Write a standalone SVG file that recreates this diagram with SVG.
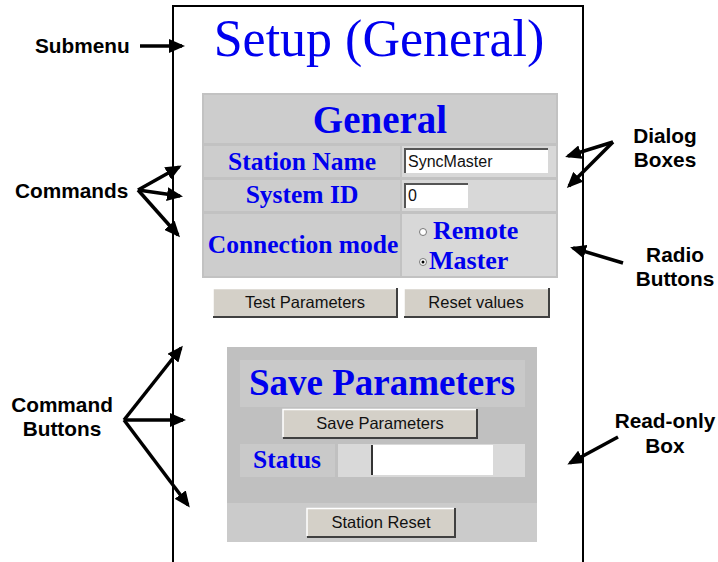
<svg xmlns="http://www.w3.org/2000/svg" width="718" height="562" viewBox="0 0 718 562">
<style>
.ann{font-family:"Liberation Sans",Arial,sans-serif;font-weight:bold;font-size:20.8px;fill:#000}
.blue{font-family:"Liberation Serif","Times New Roman",serif;fill:#0000ee}
.lbl{font-weight:bold;font-size:25.5px}
.btn{font-family:"Liberation Sans",Arial,sans-serif;font-size:16.5px;fill:#111}
.inp{font-family:"Liberation Sans",Arial,sans-serif;font-size:16px;fill:#111}
.cell{fill:#cdcdcd}
.vcell{fill:#d8d8d8}
.bface{fill:#d4d0c8}
.bdark{fill:none;stroke:#404040;stroke-width:2}
.blight{fill:none;stroke:#ffffff;stroke-width:1.5}
.arr{stroke:#000;stroke-width:3.5;fill:none;marker-end:url(#ah)}
</style>
<defs>
<marker id="ah" markerUnits="userSpaceOnUse" viewBox="0 0 16 14" refX="13" refY="7" markerWidth="16" markerHeight="14" orient="auto">
<path d="M0,0 L16,7 L0,14 Z" fill="#000"/>
</marker>
</defs>
<rect width="718" height="562" fill="#fff"/>

<g id="frame">
<path d="M173,562 V6 H583 V562" fill="none" stroke="#000" stroke-width="2"/>
</g>

<g id="title">
<text x="379" y="56" text-anchor="middle" class="blue" font-size="52">Setup (General)</text>
</g>

<g id="general-table">
<rect x="202" y="93" width="356" height="185" fill="#c2c2c2"/>
<rect x="204" y="95" width="352" height="48" class="cell"/>
<text x="380" y="133" text-anchor="middle" class="blue" font-weight="bold" font-size="39">General</text>
<rect x="204" y="146" width="196" height="31" class="cell"/>
<rect x="402" y="146" width="154" height="31" class="vcell"/>
<text x="302" y="170" text-anchor="middle" class="blue lbl">Station Name</text>
<rect x="204" y="180" width="196" height="31" class="cell"/>
<rect x="402" y="180" width="154" height="31" class="vcell"/>
<text x="302" y="203" text-anchor="middle" class="blue lbl">System ID</text>
<rect x="204" y="214" width="196" height="62" class="cell"/>
<rect x="402" y="214" width="154" height="62" class="vcell"/>
<text x="303" y="253" text-anchor="middle" class="blue lbl">Connection mode</text>
</g>

<g id="station-name-box">
<rect x="404" y="148" width="144" height="25" fill="#fff"/>
<path d="M405,173 V149 H548" fill="none" stroke="#555" stroke-width="2"/>
<text x="408" y="167" class="inp">SyncMaster</text>
</g>

<g id="system-id-box">
<rect x="404" y="183" width="64" height="25" fill="#fff"/>
<path d="M405,208 V184 H468" fill="none" stroke="#555" stroke-width="2"/>
<text x="408" y="201" class="inp">0</text>
</g>

<g id="radio-remote">
<circle cx="423" cy="232" r="3.5" fill="#fff" stroke="#777" stroke-width="1"/>
<text x="433" y="239" class="blue" font-weight="bold" font-size="26">Remote</text>
</g>
<g id="radio-master">
<circle cx="423" cy="262" r="3.5" fill="#fff" stroke="#777" stroke-width="1"/>
<circle cx="423" cy="262" r="1.5" fill="#000"/>
<text x="429" y="269" class="blue" font-weight="bold" font-size="26">Master</text>
</g>

<g id="btn-test">
<rect x="213" y="288" width="184" height="29" class="bface"/>
<path d="M213,317 H397 V288" class="bdark"/>
<path d="M213,316 V288.5 H396" class="blight"/>
<text x="305" y="308" text-anchor="middle" class="btn">Test Parameters</text>
</g>
<g id="btn-reset-values">
<rect x="404" y="288" width="145" height="29" class="bface"/>
<path d="M404,317 H549 V288" class="bdark"/>
<path d="M404,316 V288.5 H548" class="blight"/>
<text x="476" y="308" text-anchor="middle" class="btn">Reset values</text>
</g>

<g id="save-panel">
<rect x="227" y="347" width="310" height="195" fill="#c0c0c0"/>
<rect x="240" y="360" width="285" height="47" fill="#c9c9c9"/>
<text x="382" y="395" text-anchor="middle" class="blue" font-weight="bold" font-size="37">Save Parameters</text>
<rect x="240" y="444" width="95" height="33" fill="#c9c9c9"/>
<text x="287" y="468" text-anchor="middle" class="blue lbl">Status</text>
<rect x="338" y="444" width="187" height="33" fill="#d9d9d9"/>
<rect x="227" y="503" width="310" height="39" fill="#cbcbcb"/>
</g>

<g id="btn-save">
<rect x="283" y="409" width="194" height="29" class="bface"/>
<path d="M283,438 H477 V409" class="bdark"/>
<path d="M283,437 V409.5 H476" class="blight"/>
<text x="380" y="429" text-anchor="middle" class="btn">Save Parameters</text>
</g>

<g id="status-box">
<rect x="371" y="445" width="122" height="30" fill="#fff"/>
<path d="M372,475 V445" fill="none" stroke="#333" stroke-width="2"/>
</g>

<g id="btn-station-reset">
<rect x="307" y="508" width="148" height="29" class="bface"/>
<path d="M307,537 H455 V508" class="bdark"/>
<path d="M307,536 V508.5 H454" class="blight"/>
<text x="381" y="528" text-anchor="middle" class="btn">Station Reset</text>
</g>

<g id="label-submenu">
<text x="35" y="53" class="ann">Submenu</text>
</g>
<g id="label-commands">
<text x="15" y="198" class="ann">Commands</text>
</g>
<g id="label-command-buttons">
<text x="62" y="412" text-anchor="middle" class="ann">Command</text>
<text x="62" y="436" text-anchor="middle" class="ann">Buttons</text>
</g>
<g id="label-dialog-boxes">
<text x="665" y="143" text-anchor="middle" class="ann">Dialog</text>
<text x="665" y="167" text-anchor="middle" class="ann">Boxes</text>
</g>
<g id="label-radio-buttons">
<text x="675" y="262" text-anchor="middle" class="ann">Radio</text>
<text x="675" y="286" text-anchor="middle" class="ann">Buttons</text>
</g>
<g id="label-read-only">
<text x="665" y="428" text-anchor="middle" class="ann">Read-only</text>
<text x="665" y="453" text-anchor="middle" class="ann">Box</text>
</g>

<g id="connectors">
<line x1="140" y1="46" x2="182" y2="46" class="arr"/>
<line x1="138" y1="190" x2="179" y2="167" class="arr"/>
<line x1="138" y1="190" x2="180" y2="196" class="arr"/>
<line x1="138" y1="190" x2="178" y2="235" class="arr"/>
<line x1="124" y1="420" x2="181" y2="348" class="arr"/>
<line x1="124" y1="420" x2="183" y2="420" class="arr"/>
<line x1="124" y1="420" x2="188" y2="505" class="arr"/>
<line x1="613" y1="142" x2="568" y2="156" class="arr"/>
<line x1="613" y1="142" x2="569" y2="186" class="arr"/>
<line x1="623" y1="263" x2="573" y2="248" class="arr"/>
<line x1="618" y1="437" x2="570" y2="463" class="arr"/>
</g>
</svg>
